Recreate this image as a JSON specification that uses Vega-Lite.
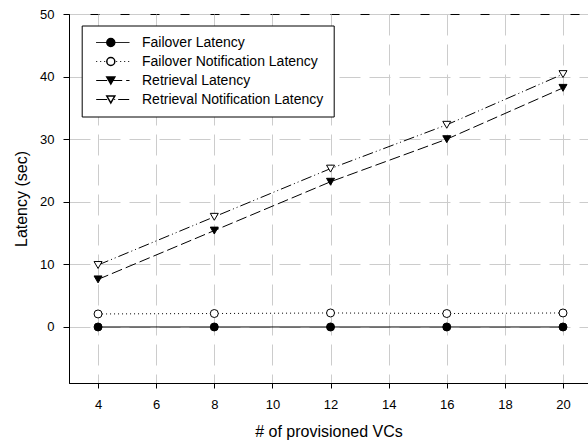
{
  "$schema": "https://vega.github.io/schema/vega-lite/v6.json",
  "width": 519,
  "height": 369,
  "padding": {"left": 69, "top": 14, "right": 0, "bottom": 58},
  "autosize": {"type": "none"},
  "background": "white",
  "config": {
    "font": "Liberation Sans",
    "view": {"stroke": "black", "strokeWidth": 1},
    "axis": {
      "labelFont": "Liberation Sans",
      "titleFont": "Liberation Sans",
      "labelFontSize": 13,
      "titleFontSize": 16,
      "titleFontWeight": "normal",
      "labelColor": "black",
      "titleColor": "black",
      "domainColor": "black",
      "tickColor": "black",
      "gridColor": "#cccccc",
      "gridDash": [21, 9],
      "gridWidth": 1
    },
    "legend": {
      "labelFont": "Liberation Sans",
      "labelFontSize": 14,
      "labelColor": "black"
    }
  },
  "data": {
    "values": [
      {"vcs": 4, "latency": 0, "series": "Failover Latency"},
      {"vcs": 8, "latency": 0, "series": "Failover Latency"},
      {"vcs": 12, "latency": 0, "series": "Failover Latency"},
      {"vcs": 16, "latency": 0, "series": "Failover Latency"},
      {"vcs": 20, "latency": 0, "series": "Failover Latency"},
      {"vcs": 4, "latency": 2.08, "series": "Failover Notification Latency"},
      {"vcs": 8, "latency": 2.15, "series": "Failover Notification Latency"},
      {"vcs": 12, "latency": 2.24, "series": "Failover Notification Latency"},
      {"vcs": 16, "latency": 2.15, "series": "Failover Notification Latency"},
      {"vcs": 20, "latency": 2.24, "series": "Failover Notification Latency"},
      {"vcs": 4, "latency": 7.6, "series": "Retrieval Latency"},
      {"vcs": 8, "latency": 15.4, "series": "Retrieval Latency"},
      {"vcs": 12, "latency": 23.2, "series": "Retrieval Latency"},
      {"vcs": 16, "latency": 30.0, "series": "Retrieval Latency"},
      {"vcs": 20, "latency": 38.2, "series": "Retrieval Latency"},
      {"vcs": 4, "latency": 9.9, "series": "Retrieval Notification Latency"},
      {"vcs": 8, "latency": 17.6, "series": "Retrieval Notification Latency"},
      {"vcs": 12, "latency": 25.3, "series": "Retrieval Notification Latency"},
      {"vcs": 16, "latency": 32.3, "series": "Retrieval Notification Latency"},
      {"vcs": 20, "latency": 40.4, "series": "Retrieval Notification Latency"}
    ]
  },
  "encoding": {
    "x": {
      "field": "vcs",
      "type": "quantitative",
      "scale": {"domain": [3, 20.86], "nice": false, "zero": false},
      "axis": {
        "title": "# of provisioned VCs",
        "values": [4, 6, 8, 10, 12, 14, 16, 18, 20],
        "tickSize": 5,
        "labelPadding": 10,
        "titlePadding": 12
      }
    },
    "y": {
      "field": "latency",
      "type": "quantitative",
      "scale": {"domain": [-8.95, 50], "nice": false, "zero": false},
      "axis": {
        "title": "Latency (sec)",
        "values": [0, 10, 20, 30, 40, 50],
        "tickSize": 6,
        "labelPadding": 9,
        "titlePadding": 10
      }
    }
  },
  "layer": [
    {
      "mark": {"type": "line", "color": "black", "strokeWidth": 1},
      "encoding": {
        "strokeDash": {
          "field": "series",
          "type": "nominal",
          "scale": {
            "range": [[1, 0], [1, 3], [11, 4], [11, 3, 1, 3, 1, 3]]
          },
          "legend": {
            "title": null,
            "orient": "none",
            "legendX": 12.7,
            "legendY": 11.5,
            "symbolType": "M-1.25,0H15.4",
            "symbolSize": 16,
            "symbolStrokeWidth": 1,
            "symbolStrokeColor": "black",
            "symbolFillColor": "transparent",
            "strokeColor": "black",
            "fillColor": "white",
            "padding": 10,
            "labelOffset": 36.3,
            "rowPadding": 5,
            "labelLimit": 400,
            "labelExpr": "datum.label + '    '"
          }
        }
      }
    },
    {
      "mark": {"type": "point", "filled": true, "stroke": "black", "strokeWidth": 1, "opacity": 1, "size": 64},
      "encoding": {
        "shape": {
          "field": "series",
          "type": "nominal",
          "scale": {
            "domain": ["Failover Latency", "Failover Notification Latency", "Retrieval Latency", "Retrieval Notification Latency"],
            "range": ["circle", "circle", "triangle-down", "triangle-down"]
          },
          "legend": {
            "title": null,
            "orient": "none",
            "legendX": 24.8,
            "legendY": 11.5,
            "symbolSize": 64,
            "symbolOpacity": 1,
            "padding": 10,
            "labelOffset": 8,
            "rowPadding": 5,
            "labelColor": "transparent",
            "labelLimit": 400,
            "encode": {"symbols": {"update": {"stroke": {"value": "black"}, "strokeWidth": {"value": 1}}}}
          }
        },
        "fill": {
          "field": "series",
          "type": "nominal",
          "scale": {
            "domain": ["Failover Latency", "Failover Notification Latency", "Retrieval Latency", "Retrieval Notification Latency"],
            "range": ["black", "white", "black", "white"]
          },
          "legend": {
            "title": null,
            "orient": "none",
            "legendX": 24.8,
            "legendY": 11.5,
            "symbolSize": 64,
            "symbolOpacity": 1,
            "padding": 10,
            "labelOffset": 8,
            "rowPadding": 5,
            "labelColor": "transparent",
            "labelLimit": 400,
            "encode": {"symbols": {"update": {"stroke": {"value": "black"}, "strokeWidth": {"value": 1}}}}
          }
        }
      }
    }
  ]
}
